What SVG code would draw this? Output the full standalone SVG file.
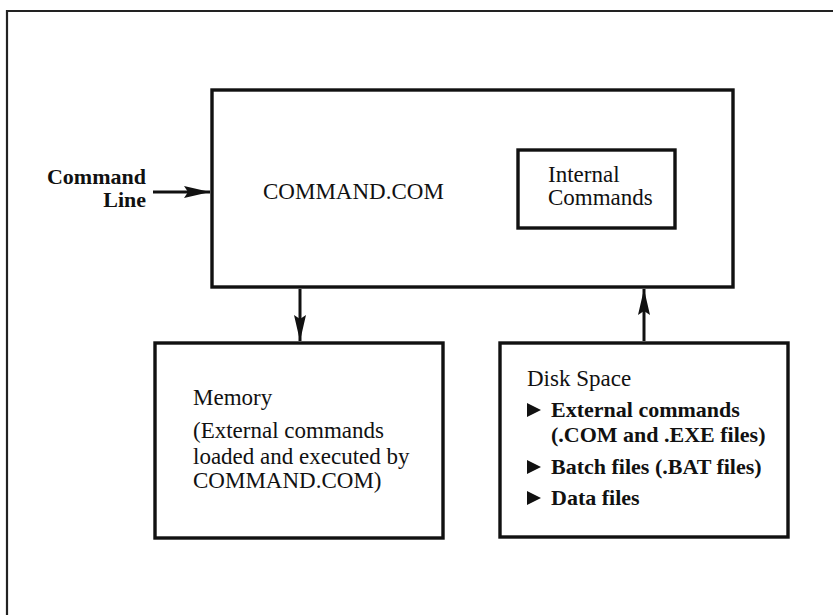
<svg xmlns="http://www.w3.org/2000/svg" width="833" height="615" viewBox="0 0 833 615">
<style>
.box{fill:#fff;stroke:#111;stroke-width:3.4}
.frame{fill:none;stroke:#222;stroke-width:2.2}
.t{font-family:"Liberation Serif","Times New Roman",serif;font-size:23px;fill:#111}
.b{font-family:"Liberation Serif","Times New Roman",serif;font-size:22px;font-weight:bold;fill:#111}
.ln{stroke:#111;stroke-width:3;fill:none}
.bul{fill:#111}
</style>
<defs>
<marker id="ah" viewBox="0 0 26 12" refX="26" refY="6" markerWidth="26" markerHeight="12" markerUnits="userSpaceOnUse" orient="auto">
<path d="M0,0 L26,6 L0,12 L4,6 Z" fill="#111"/>
</marker>
</defs>
<rect width="833" height="615" fill="#fff"/>
<path class="frame" d="M7,615 V11 H833"/>
<g id="commandcom">
<rect class="box" x="212" y="90" width="521" height="197"/>
<text class="t" x="263" y="199">COMMAND.COM</text>
</g>
<g id="internal">
<rect class="box" x="518" y="150" width="157" height="78"/>
<text class="t" x="548" y="182">Internal</text>
<text class="t" x="548" y="205">Commands</text>
</g>
<g id="cmdline">
<text class="b" x="146" y="184" text-anchor="end">Command</text>
<text class="b" x="146" y="207" text-anchor="end">Line</text>
</g>
<g id="memory">
<rect class="box" x="155" y="343" width="288" height="195"/>
<text class="t" x="193" y="405">Memory</text>
<text class="t" x="193" y="438">(External commands</text>
<text class="t" x="193" y="464">loaded and executed by</text>
<text class="t" x="193" y="488">COMMAND.COM)</text>
</g>
<g id="disk">
<rect class="box" x="500" y="343" width="288" height="194"/>
<text class="t" x="527" y="386">Disk Space</text>
<path class="bul" d="M527,403 L541,410 L527,417 Z"/>
<text class="b" x="551" y="417">External commands</text>
<text class="b" x="551" y="442">(.COM and .EXE files)</text>
<path class="bul" d="M527,460 L541,467 L527,474 Z"/>
<text class="b" x="551" y="474">Batch files (.BAT files)</text>
<path class="bul" d="M527,491 L541,498 L527,505 Z"/>
<text class="b" x="551" y="505">Data files</text>
</g>
<g id="connectors">
<line class="ln" x1="153" y1="192" x2="210" y2="192" marker-end="url(#ah)"/>
<line class="ln" x1="300" y1="289" x2="300" y2="341" marker-end="url(#ah)"/>
<line class="ln" x1="644" y1="341" x2="644" y2="289" marker-end="url(#ah)"/>
</g>
</svg>
